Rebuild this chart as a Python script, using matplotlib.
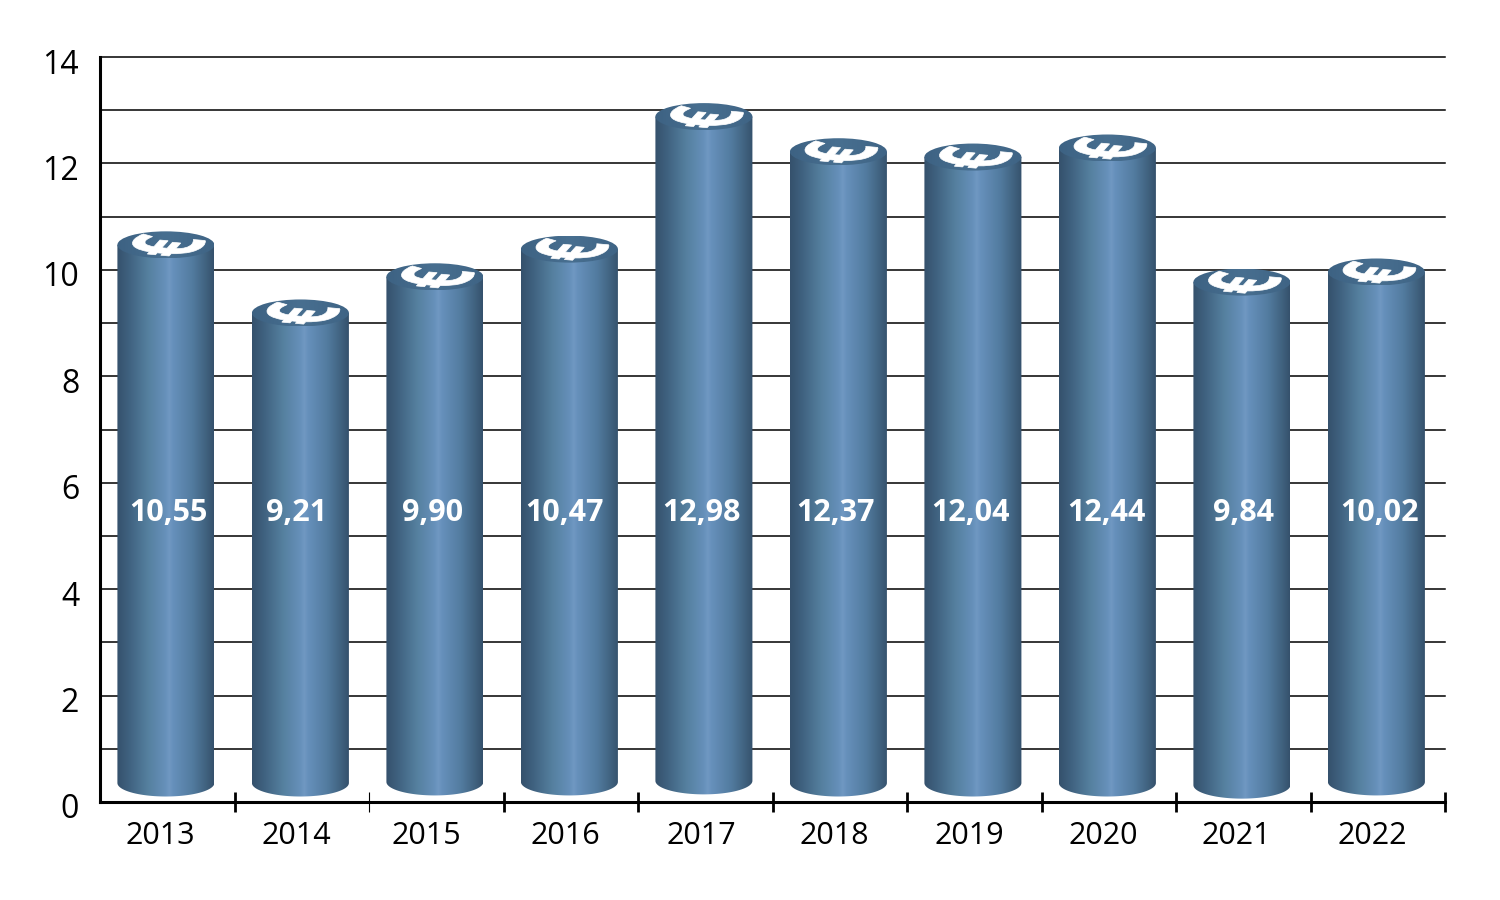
import numpy as np
import matplotlib
matplotlib.use('Agg')
import matplotlib.pyplot as plt
from matplotlib.colors import LinearSegmentedColormap
from matplotlib.font_manager import FontProperties
from matplotlib.patches import Ellipse, PathPatch, Polygon
from matplotlib.textpath import TextPath
from matplotlib.transforms import Affine2D, ScaledTranslation

years = ['2013', '2014', '2015', '2016', '2017', '2018', '2019', '2020', '2021', '2022']
value_labels = ['10,55', '9,21', '9,90', '10,47', '12,98', '12,37', '12,04', '12,44', '9,84', '10,02']
# height of the cylinder top as drawn in the picture (not quite the printed figure)
bar_tops = [10.47, 9.19, 9.87, 10.39, 12.88, 12.22, 12.12, 12.29, 9.77, 9.96]

# label placement in the original is a bit uneven
year_x = [0.45, 1.46, 2.43, 3.46, 4.47, 5.46, 6.46, 7.46, 8.45, 9.46]
value_x = [0.51, 1.46, 2.47, 3.45, 4.47, 5.47, 6.47, 7.48, 8.50, 9.51]
base_shift = [0.0, 0.0, 0.02, 0.02, 0.04, 0.0, 0.0, 0.0, -0.04, 0.02]

plt.rcParams['font.family'] = ['Open Sans', 'DejaVu Sans']

W, H = 1500, 900
L, R, T, B = 100, 1445, 57, 802
PX_X = (R - L) / 10   # pixels per category
PX_Y = (B - T) / 14   # pixels per y unit

BAR_W = 97 / PX_X
ELL_H = 27 / PX_Y
BASE_Y = 19 / PX_Y

side_cmap = LinearSegmentedColormap.from_list('side', [
    (0.0, '#35516c'), (0.12, '#3f617f'), (0.32, '#55809f'), (0.5, '#6690ba'),
    (0.54, '#7098c2'), (0.58, '#6690bb'), (0.78, '#527b9f'), (0.92, '#40627f'),
    (1.0, '#35516c')])
top_cmap = LinearSegmentedColormap.from_list('top', ['#3d6283', '#486f90', '#3f6485'])
grad = np.linspace(0, 1, 256).reshape(1, -1)

fig = plt.figure(figsize=(15, 9), dpi=100)
ax = fig.add_axes([L / W, 1 - B / H, (R - L) / W, (B - T) / H])

# flattened euro sign, sized once to 73x21 px
euro = TextPath((0, 0), '€', size=1, prop=FontProperties(family='Open Sans', weight='bold'))
eb = euro.get_extents()
euro_base = (Affine2D()
             .translate(-(eb.x0 + eb.x1) / 2, -(eb.y0 + eb.y1) / 2)
             .rotate_deg(90)
             .skew_deg(18, -14))
eb2 = euro_base.transform_path(euro).get_extents()
euro_base.scale(73 / eb2.width / PX_X, 22 / eb2.height / PX_Y)


def draw_cylinder(xc, top, base):
    x0, x1 = xc - BAR_W / 2, xc + BAR_W / 2
    t = np.linspace(np.pi, 2 * np.pi, 60)
    bottom = np.column_stack([xc + BAR_W / 2 * np.cos(t), base + ELL_H / 2 * np.sin(t)])
    outline = np.vstack([[x0, top], bottom, [x1, top]])
    body = Polygon(outline, closed=True, fc='none', ec='none', zorder=3)
    ax.add_patch(body)
    im = ax.imshow(grad, extent=[x0, x1, base - ELL_H, top], cmap=side_cmap,
                   aspect='auto', zorder=3, interpolation='bilinear')
    im.set_clip_path(body)

    cap = Ellipse((xc, top), BAR_W, ELL_H, fc='none', ec='none', zorder=4)
    ax.add_patch(cap)
    im2 = ax.imshow(grad, extent=[x0, x1, top - ELL_H / 2, top + ELL_H / 2], cmap=top_cmap,
                    aspect='auto', zorder=4, interpolation='bilinear')
    im2.set_clip_path(cap)

    tr = euro_base + Affine2D().translate(xc, top - 1 / PX_Y) + ax.transData
    ax.add_patch(PathPatch(euro, fc='white', ec='white', lw=0.5, transform=tr, zorder=5))


centers = np.arange(len(years)) + 0.49
for i, xc in enumerate(centers):
    draw_cylinder(xc, bar_tops[i], BASE_Y + base_shift[i])
    ax.text(value_x[i], 5.43, value_labels[i], color='white', fontsize=22, fontweight='bold',
            ha='center', va='center', zorder=6)

ax.set_xlim(0, 10)
ax.set_ylim(0, 14)

ax.set_yticks(range(15))
ax.set_yticklabels([str(v) if v % 2 == 0 else '' for v in range(15)], fontsize=23)
ax.tick_params(axis='y', length=0, pad=15)
ax.grid(axis='y', color='black', lw=1.1, zorder=1, clip_on=False)
ax.set_axisbelow(True)
shift = ScaledTranslation(0, -4 / 100, fig.dpi_scale_trans)
for lab in ax.get_yticklabels():
    lab.set_transform(lab.get_transform() + shift)

ax.set_xticks(range(1, 11))
ax.set_xticklabels([])
ax.tick_params(axis='x', which='major', direction='inout', length=14, width=2, color='black')
ax.xaxis.get_major_ticks()[1].tick1line.set_markeredgewidth(0.8)
ax.set_xticks(year_x, minor=True)
ax.set_xticklabels(years, minor=True, fontsize=22)
ax.tick_params(axis='x', which='minor', length=0, pad=14)

for s in ['top', 'right']:
    ax.spines[s].set_visible(False)
for s in ['left', 'bottom']:
    ax.spines[s].set_linewidth(2.2)
    ax.spines[s].set_zorder(2)

fig.savefig('out.png', dpi=100)
